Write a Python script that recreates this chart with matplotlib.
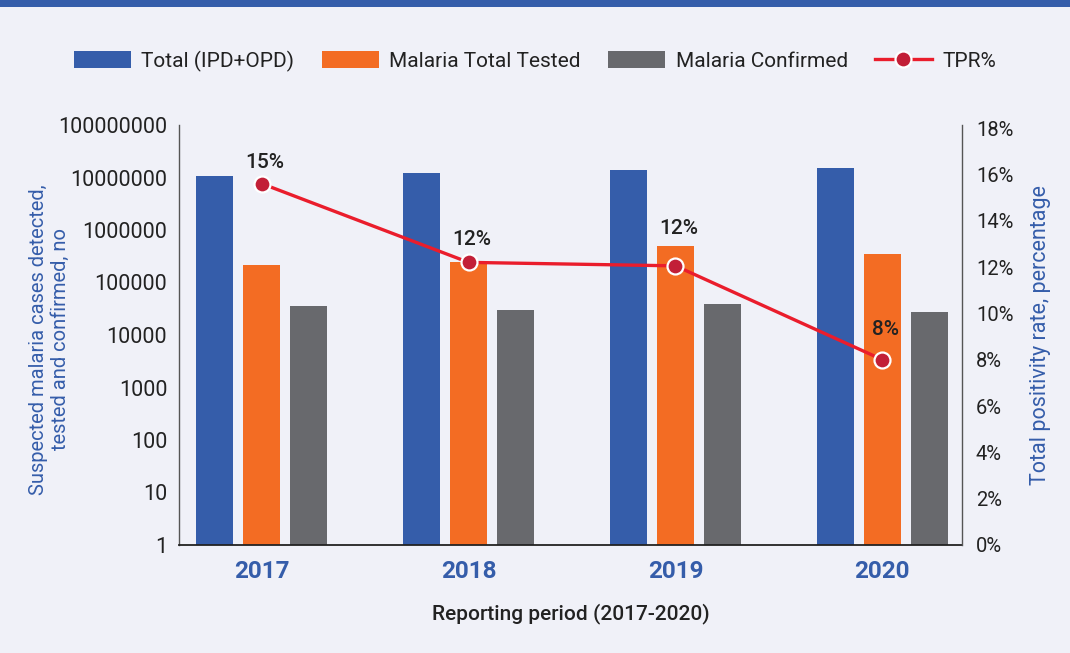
import numpy as np
import matplotlib
matplotlib.use("Agg")
import matplotlib.pyplot as plt
from matplotlib.patches import Rectangle

plt.rcParams['font.family'] = ['Roboto', 'DejaVu Sans']

# data
years = ['2017', '2018', '2019', '2020']
total_opd_ipd = [10700000, 12200000, 13900000, 15000000]
malaria_tested = [215000, 245000, 500000, 350000]
malaria_confirmed = [36000, 30000, 39000, 27500]
tpr = [15.6, 12.2, 12.05, 8.0]
tpr_labels = ['15%', '12%', '12%', '8%']

blue = '#355DAA'
orange = '#F36C23'
gray = '#68696D'
red_line = '#EA1D2C'
red_dot = '#C21F37'
bg = '#F0F1F8'
txt = '#222222'

fig = plt.figure(figsize=(10.7, 6.53), dpi=100, facecolor=bg)
ax = fig.add_axes([179/1070, 1 - 545/653, (962 - 179)/1070, (545 - 125)/653])
ax.set_facecolor(bg)

# top band
fig.patches.append(Rectangle((0, 1 - 7/653), 1, 7/653, transform=fig.transFigure,
                             facecolor=blue, edgecolor='none'))

x = np.arange(len(years))
w = 0.18
off = 0.227
ax.bar(x - off, total_opd_ipd, w, color=blue, label='Total (IPD+OPD)', zorder=2)
ax.bar(x, malaria_tested, w, color=orange, label='Malaria Total Tested', zorder=2)
ax.bar(x + off, malaria_confirmed, w, color=gray, label='Malaria Confirmed', zorder=2)

ax.set_yscale('log')
ax.set_ylim(1, 1e8)
ax.set_xlim(-0.40, 3.385)
ticks = [10**i for i in range(9)]
ax.set_yticks(ticks)
ax.set_yticklabels([str(t) for t in ticks])
ax.yaxis.set_minor_locator(matplotlib.ticker.NullLocator())
ax.set_xticks(x)
ax.set_xticklabels(years, fontsize=17.5, fontweight='bold', color=blue)
ax.tick_params(axis='x', length=0, pad=11)
ax.tick_params(axis='y', length=0, pad=8.5, labelsize=15.5, labelcolor=txt)

for s in ['top', 'right']:
    ax.spines[s].set_visible(False)
ax.spines['left'].set_color('#555555')
ax.spines['left'].set_linewidth(1)
ax.spines['bottom'].set_color('#222222')
ax.spines['bottom'].set_linewidth(1.3)

ax.set_ylabel('Suspected malaria cases detected,\ntested and confirmed, no',
              fontsize=14.5, color=blue, linespacing=1.2)
ax.yaxis.set_label_coords(-0.139, 0.49)
ax.set_xlabel('Reporting period (2017-2020)', fontsize=15, fontweight='medium',
              color=txt, labelpad=14)

ax2 = ax.twinx()
ax2.set_ylim(0, 18.13)
ax2.set_yticks(range(0, 19, 2))
ax2.set_yticklabels([f'{v}%' for v in range(0, 19, 2)])
ax2.tick_params(axis='y', length=0, pad=10, labelsize=14.5, labelcolor=txt)
for s in ['top', 'left', 'bottom']:
    ax2.spines[s].set_visible(False)
ax2.spines['right'].set_color('#555555')
ax2.spines['right'].set_linewidth(1)
ax2.set_ylabel('Total positivity rate, percentage', fontsize=15.5, color=blue, labelpad=12)

ax2.plot(x, tpr, color=red_line, lw=2.4, marker='o', markersize=11.5,
         markerfacecolor=red_dot, markeredgecolor='white', markeredgewidth=1.6,
         label='TPR%', zorder=3)

label_offsets = [15, 16.5, 27, 21.5]
for xi, v, lab, dy in zip(x, tpr, tpr_labels, label_offsets):
    ax2.annotate(lab, (xi, v), xytext=(2, dy), textcoords='offset points',
                 ha='center', va='center', fontsize=15, fontweight='medium', color=txt)

h1, l1 = ax.get_legend_handles_labels()
h2, l2 = ax2.get_legend_handles_labels()
fig.legend(h1 + h2, l1 + l2, loc='center', bbox_to_anchor=(0.5, 1 - 61/653),
           ncol=4, frameon=False, fontsize=15, handlelength=2.75, handleheight=0.85,
           handletextpad=0.5, columnspacing=1.3, labelcolor=txt)

fig.savefig('out.png', dpi=100, facecolor=bg)
